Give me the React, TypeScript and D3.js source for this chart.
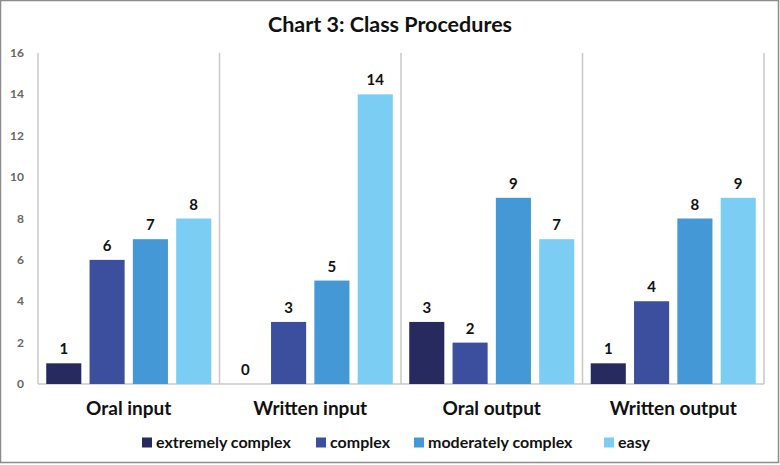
import React from "react";
import * as d3 from "d3";

const categories = ["Oral input", "Written input", "Oral output", "Written output"];
const seriesNames = ["extremely complex", "complex", "moderately complex", "easy"];
const extremelyComplex = [1, 0, 3, 1];
const complex = [6, 3, 2, 4];
const moderatelyComplex = [7, 5, 9, 8];
const easy = [8, 14, 7, 9];
const seriesValues = [extremelyComplex, complex, moderatelyComplex, easy];
const colors = ["#272a5f", "#3c4f9e", "#4498d5", "#7bcdf3"];
const yTicks = [0, 2, 4, 6, 8, 10, 12, 14, 16];

const W = 780;
const H = 465;
const FONT = "Lato, 'Open Sans', sans-serif";

export default function App() {
  const x0 = d3.scaleBand<string>().domain(categories).range([38, 764]).padding(0);
  const x1 = d3.scaleBand<string>().domain(seriesNames).range([0, x0.bandwidth()]).padding(0.19);
  const y = d3.scaleLinear().domain([0, 16]).range([384, 53]);

  const legendX = [142, 316, 414, 604];

  return (
    <svg
      width={W}
      height={H}
      style={{ position: "absolute", left: 0, top: 0, background: "#fff" }}
      fontFamily={FONT}
    >
      <rect x={0.5} y={0.5} width={W - 2} height={H - 3} fill="#fff" stroke="#8c8c8c" strokeWidth={1.5} />
      <text x={390} y={32} textAnchor="middle" fontSize={21.5} fontWeight={700} fill="#111">
        Chart 3: Class Procedures
      </text>

      {yTicks.map((t) => (
        <text key={t} x={24} y={y(t) + 4} textAnchor="end" fontSize={12} fontWeight={700} fill="#666">
          {t}
        </text>
      ))}

      {[...categories.map((c) => x0(c)!), 764].map((xv, i) => (
        <line key={i} x1={xv} x2={xv} y1={53} y2={384} stroke="#c8c8c8" strokeWidth={1.5} />
      ))}
      <line x1={38} x2={764} y1={384} y2={384} stroke="#c8c8c8" strokeWidth={1.5} />

      {categories.map((c, ci) => (
        <g key={c} transform={`translate(${x0(c)},0)`}>
          {seriesNames.map((s, si) => {
            const v = seriesValues[si][ci];
            const bx = x1(s)!;
            return (
              <g key={s}>
                {v > 0 && (
                  <rect x={bx} y={y(v)} width={x1.bandwidth()} height={y(0) - y(v)} fill={colors[si]} />
                )}
                <text
                  x={bx + x1.bandwidth() / 2}
                  y={y(v) - 9}
                  textAnchor="middle"
                  fontSize={15}
                  fontWeight={700}
                  fill="#111"
                >
                  {v}
                </text>
              </g>
            );
          })}
          <text x={x0.bandwidth() / 2} y={415} textAnchor="middle" fontSize={19} fontWeight={700} fill="#111">
            {c}
          </text>
        </g>
      ))}

      {seriesNames.map((name, i) => (
        <g key={name}>
          <rect x={legendX[i]} y={437.5} width={10} height={10} fill={colors[i]} />
          <text x={legendX[i] + 14} y={447.5} fontSize={16} fontWeight={700} fill="#111">
            {name}
          </text>
        </g>
      ))}
    </svg>
  );
}
